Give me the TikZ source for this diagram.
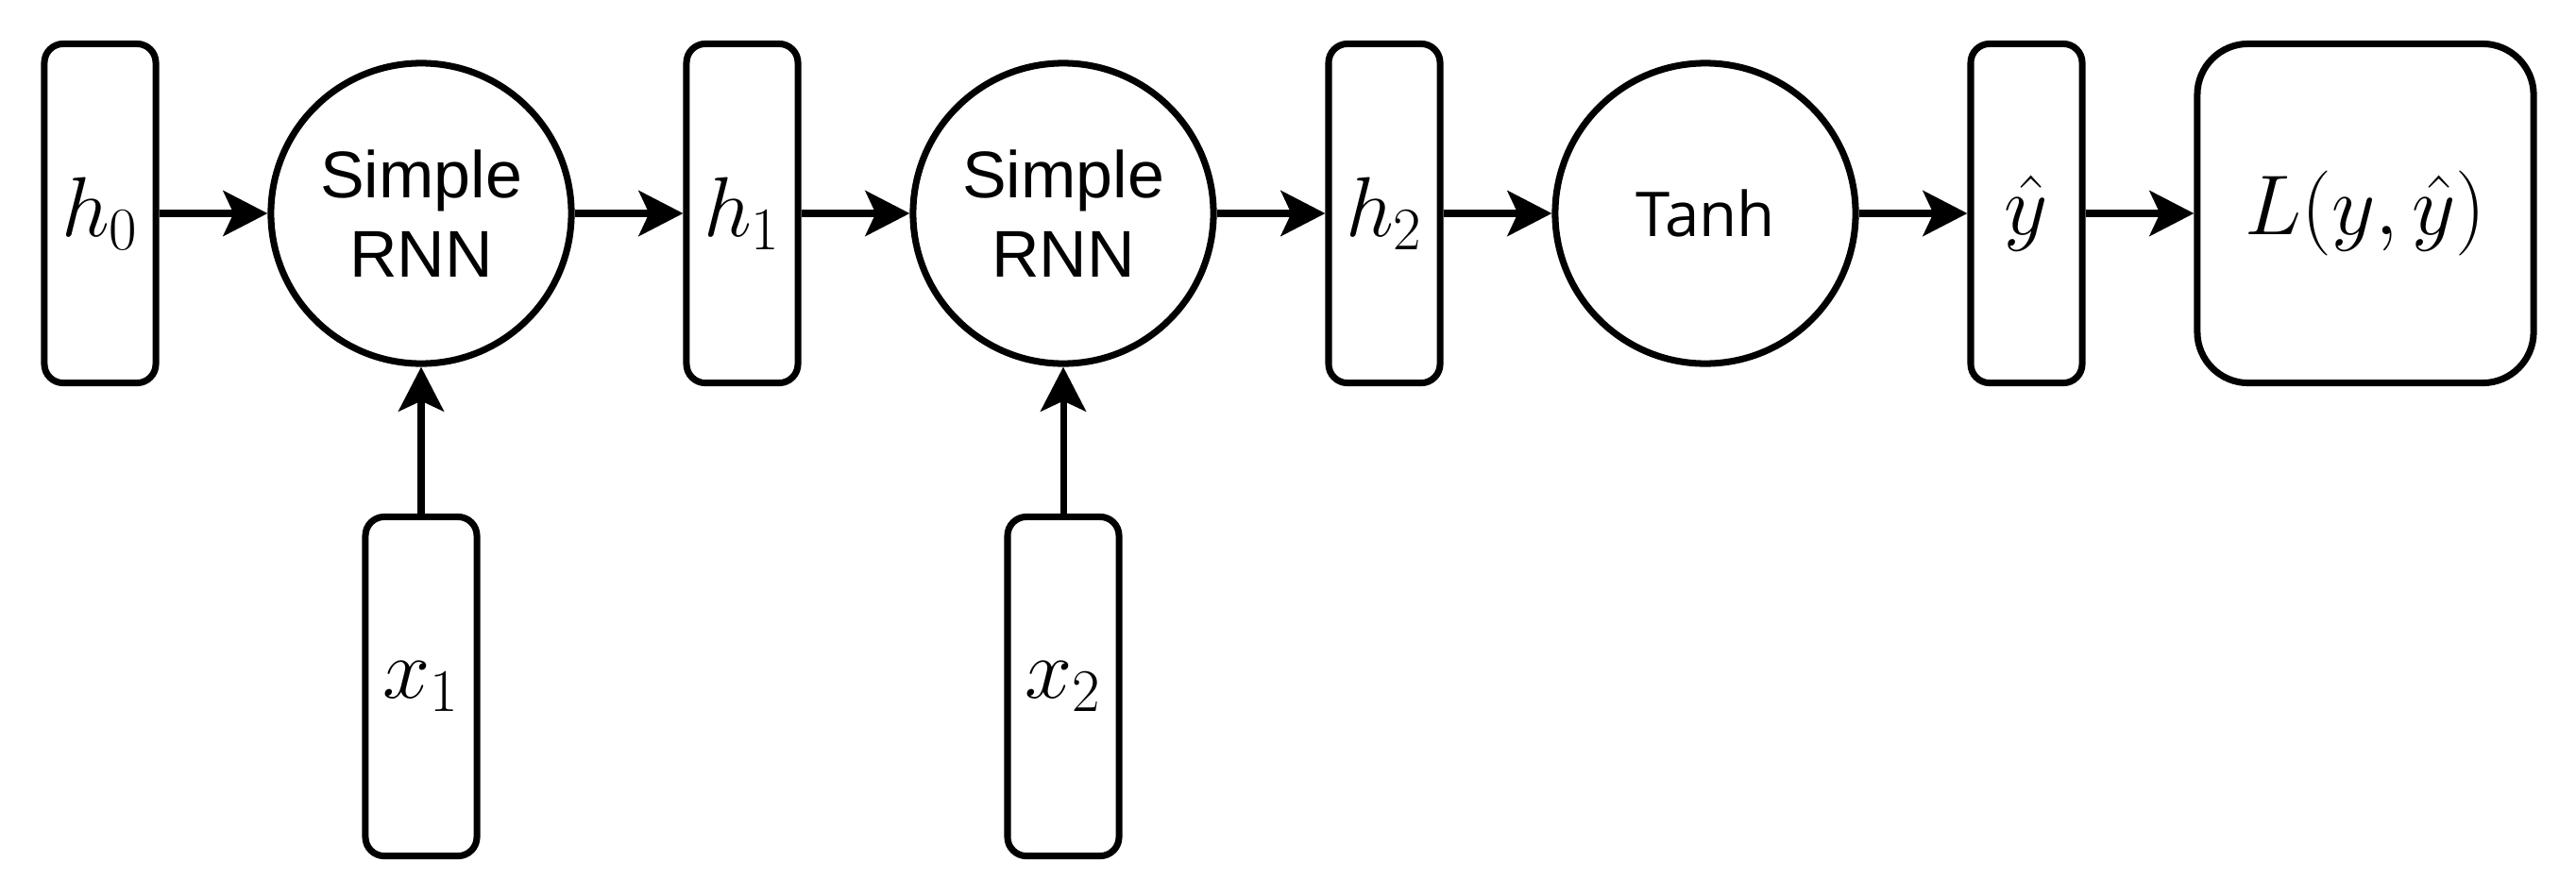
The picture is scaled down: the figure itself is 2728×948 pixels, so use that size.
\RequirePackage{fix-cm}
\documentclass[tikz,border=0pt]{standalone}
\usepackage[no-math]{fontspec}
\usetikzlibrary{arrows.meta}
\newfontfamily\arialf{Liberation Sans}
\newfontfamily\tanhf{Open Sans}
\DeclareMathSizes{25.6}{25.6}{18.2}{14}
\newcommand{\mathsz}{\fontsize{25.6}{30}\selectfont}
\begin{document}
\begin{tikzpicture}[x=0.01cm,y=-0.01cm,
  hbox/.style={draw, line width=2pt, rounded corners=0.2cm, minimum width=1.18cm, minimum height=3.59cm, inner sep=0pt, font=\mathsz},
  lbox/.style={draw, line width=2pt, rounded corners=0.54cm, minimum width=3.56cm, minimum height=3.59cm, inner sep=0pt, font=\mathsz},
  cnode/.style={draw, circle, line width=2pt, minimum size=3.18cm, inner sep=0pt, align=center, font=\fontsize{19.9}{24}\selectfont\arialf},
  tnode/.style={cnode, font=\fontsize{18.6}{22}\selectfont\tanhf},
  conn/.style={line width=2pt, -{Stealth[length=0.47cm,width=0.48cm,inset=0.11cm]}}]
\useasboundingbox (0,0) rectangle (2728,948);
\node[hbox] (h0) at (106,226) {$h_0$};
\node[cnode] (c1) at (446,226) {Simple\\RNN};
\node[hbox] (h1) at (786,226) {$h_1$};
\node[cnode] (c2) at (1126,226) {Simple\\RNN};
\node[hbox] (h2) at (1466,226) {$h_2$};
\node[tnode] (c3) at (1806,226) {\raisebox{-0.04cm}{Tanh}};
\node[hbox] (yh) at (2146,226) {$\hat{y}$};
\node[lbox] (L) at (2505,226) {$L(y,\hat{y})$};
\node[hbox] (x1) at (446,727) {$x_1$};
\node[hbox] (x2) at (1126,727) {$x_2$};
\draw[conn] (h0) -- (c1);
\draw[conn] (c1) -- (h1);
\draw[conn] (h1) -- (c2);
\draw[conn] (c2) -- (h2);
\draw[conn] (h2) -- (c3);
\draw[conn] (c3) -- (yh);
\draw[conn] (yh) -- (L);
\draw[conn] (x1) -- (c1);
\draw[conn] (x2) -- (c2);
\end{tikzpicture}
\end{document}
